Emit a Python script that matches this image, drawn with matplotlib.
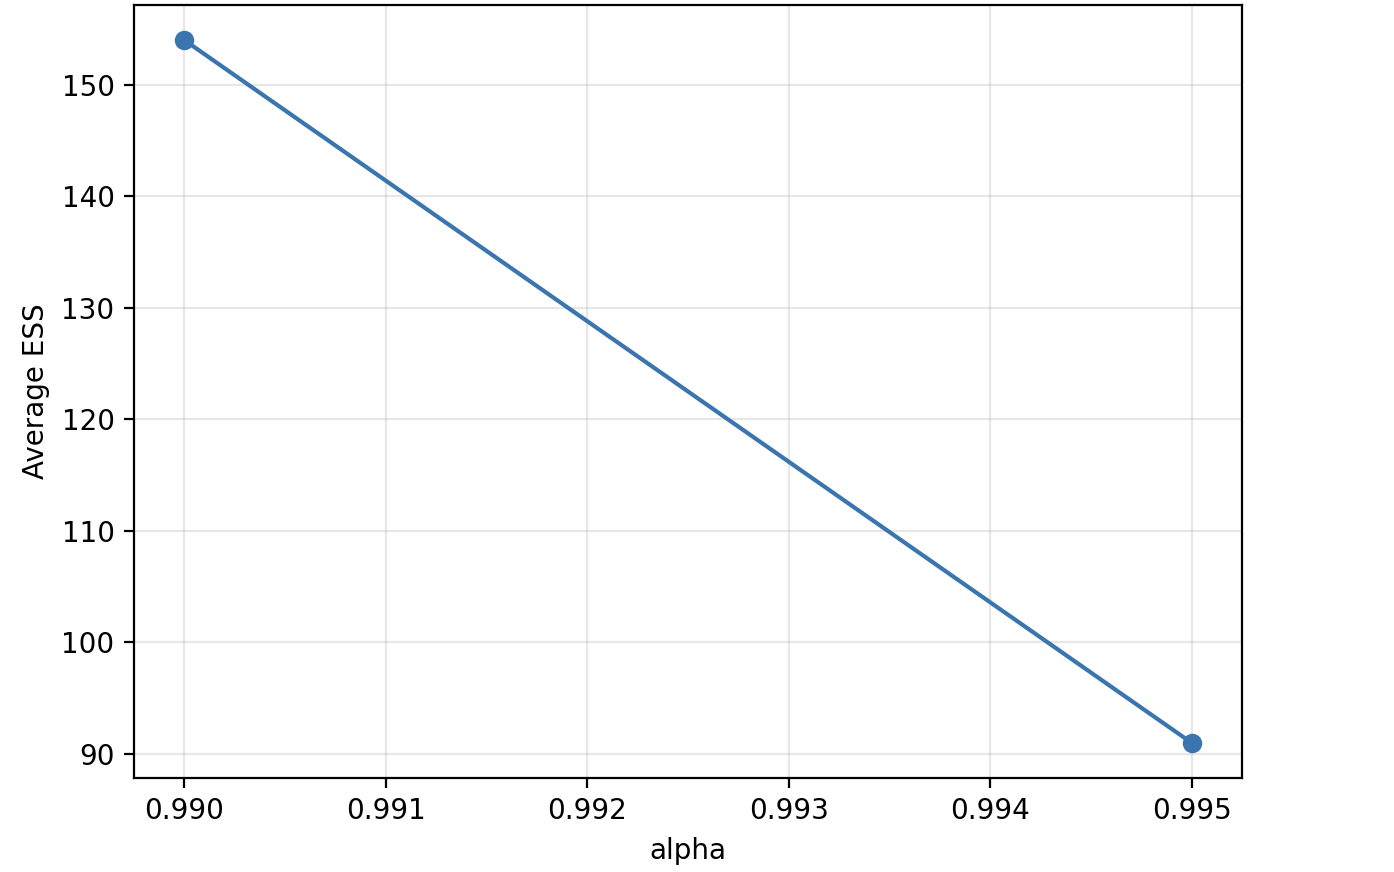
import matplotlib
matplotlib.use('Agg')
import matplotlib.pyplot as plt

# ESS vs alpha
alphas = [0.990, 0.995]
avg_ess = [154.0, 91.0]

fig = plt.figure(figsize=(6.97, 4.36), dpi=200)
ax = fig.add_axes([0.0961, 0.1078, 0.7949, 0.8865])
ax.plot(alphas, avg_ess, marker='o', color='#3a75b0')
ax.set_xlabel('alpha')
ax.set_ylabel('Average ESS')
ax.set_xticks([0.990, 0.991, 0.992, 0.993, 0.994, 0.995])
ax.grid(True, alpha=0.3)

fig.savefig('out.png', dpi=200)
